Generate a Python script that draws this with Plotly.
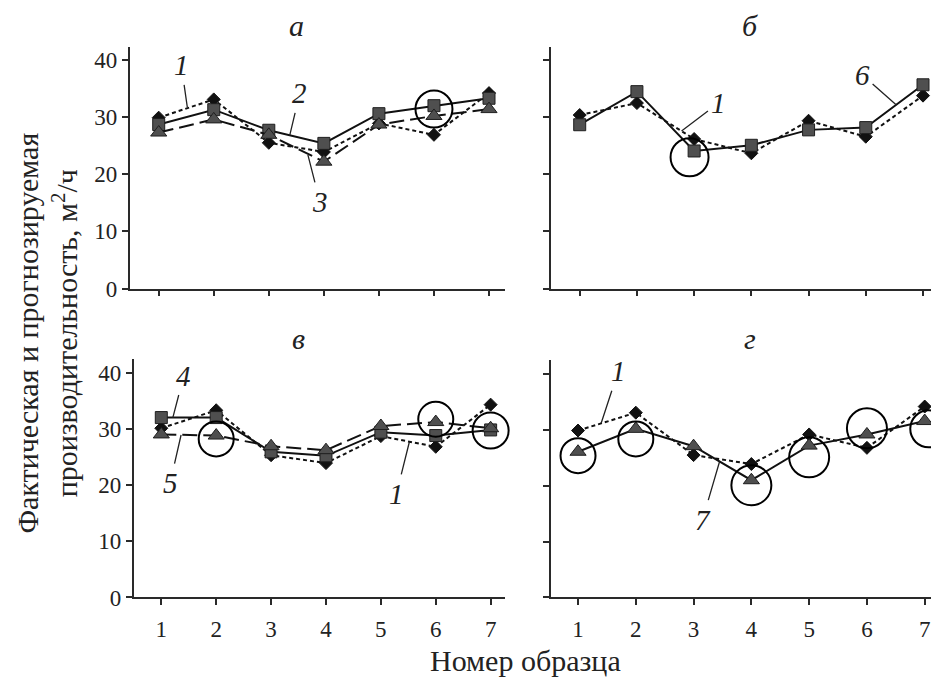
import plotly.graph_objects as go

W, H = 939, 677
samples = [1, 2, 3, 4, 5, 6, 7]

# Panel а
a_s1 = [29.9, 33.1, 25.5, 23.9, 28.9, 26.9, 34.2]
a_s2 = [28.7, 31.3, 27.7, 25.4, 30.6, 32.0, 33.3]
a_s3 = [27.3, 29.6, 26.9, 22.2, 28.7, 30.2, 31.4]
a_circ_x = [6]
a_circ_y = [31.4]
a_circ_d = [37]

# Panel б
b_s1 = [30.4, 32.5, 26.2, 23.7, 29.4, 26.6, 33.8]
b_s6 = [28.7, 34.5, 24.1, 25.1, 27.8, 28.2, 35.7]
b_circ_x = [2.92]
b_circ_y = [23.0]
b_circ_d = [38]

# Panel в
c_s1 = [30.1, 33.3, 25.3, 23.9, 28.7, 26.8, 34.3]
c_s4 = [32.0, 32.0, 25.9, 25.2, 29.4, 28.8, 29.8]
c_s5 = [29.0, 28.8, 26.9, 26.2, 30.5, 31.2, 30.1]
c_circ_x = [2, 6, 7]
c_circ_y = [28.2, 31.7, 29.7]
c_circ_d = [35, 35, 36]

# Panel г
d_s1 = [29.9, 33.1, 25.5, 23.9, 29.2, 26.8, 34.2]
d_s7 = [26.1, 30.2, 27.1, 21.0, 27.2, 29.2, 31.6]
d_circ_x = [1, 2, 4, 5, 6, 7.07]
d_circ_y = [25.4, 28.4, 20.1, 25.1, 30.3, 30.2]
d_circ_d = [35, 35, 40, 40, 40, 37]

yticks = [0, 10, 20, 30, 40]

FONT = "Liberation Serif, Times New Roman, serif"
FILL = "#4f4f4f"
EDGE = "#1e1e1e"

fig = go.Figure()


def add_series(y, kind, xa, ya):
    if kind == "diamond":
        fig.add_trace(go.Scatter(
            x=samples, y=y, mode="lines+markers", xaxis=xa, yaxis=ya,
            line=dict(color="#111", width=2, dash="4px,3px"),
            marker=dict(symbol="diamond", size=10, color="#111",
                        line=dict(color="#111", width=1)),
            showlegend=False, cliponaxis=False))
    elif kind == "square":
        fig.add_trace(go.Scatter(
            x=samples, y=y, mode="lines+markers", xaxis=xa, yaxis=ya,
            line=dict(color="#111", width=2),
            marker=dict(symbol="square", size=12, color=FILL,
                        line=dict(color=EDGE, width=1)),
            showlegend=False, cliponaxis=False))
    elif kind == "tri_dash":
        fig.add_trace(go.Scatter(
            x=samples, y=y, mode="lines+markers", xaxis=xa, yaxis=ya,
            line=dict(color="#111", width=2, dash="15px,6px"),
            marker=dict(symbol="triangle-up", size=14, color=FILL,
                        line=dict(color=EDGE, width=1)),
            showlegend=False, cliponaxis=False))
    elif kind == "tri_solid":
        fig.add_trace(go.Scatter(
            x=samples, y=y, mode="lines+markers", xaxis=xa, yaxis=ya,
            line=dict(color="#111", width=2),
            marker=dict(symbol="triangle-up", size=14, color=FILL,
                        line=dict(color=EDGE, width=1)),
            showlegend=False, cliponaxis=False))


def add_circles(cx, cy, cd, xa, ya):
    fig.add_trace(go.Scatter(
        x=cx, y=cy, mode="markers", xaxis=xa, yaxis=ya,
        marker=dict(symbol="circle-open", size=cd, color="black", opacity=1,
                    line=dict(color="black", width=2)),
        showlegend=False, cliponaxis=False))


add_series(a_s1, "diamond", "x", "y")
add_series(a_s2, "square", "x", "y")
add_series(a_s3, "tri_dash", "x", "y")
add_circles(a_circ_x, a_circ_y, a_circ_d, "x", "y")

add_series(b_s1, "diamond", "x2", "y2")
add_series(b_s6, "square", "x2", "y2")
add_circles(b_circ_x, b_circ_y, b_circ_d, "x2", "y2")

add_series(c_s1, "diamond", "x3", "y3")
add_series(c_s4, "square", "x3", "y3")
add_series(c_s5, "tri_dash", "x3", "y3")
add_circles(c_circ_x, c_circ_y, c_circ_d, "x3", "y3")

add_series(d_s1, "diamond", "x4", "y4")
add_series(d_s7, "tri_solid", "x4", "y4")
add_circles(d_circ_x, d_circ_y, d_circ_d, "x4", "y4")


def px_x(p):
    return p / W


def px_y(p):
    return 1 - p / H


axis_common = dict(showline=True, linecolor="#2a2a2a", linewidth=1.5,
                   ticks="outside", ticklen=6, tickwidth=1.5, tickcolor="#2a2a2a",
                   showgrid=False, zeroline=False,
                   tickfont=dict(family=FONT, size=23, color="#222"))

xdefs = {
    "xaxis": ([px_x(121.7), px_x(497.3)], [0.473, 7.296], "y", False),
    "xaxis2": ([px_x(542.7), px_x(929.3)], [0.493, 7.25], "y2", False),
    "xaxis3": ([px_x(125.7), px_x(497.3)], [0.497, 7.267], "y3", True),
    "xaxis4": ([px_x(542.7), px_x(930.0)], [0.527, 7.23], "y4", True),
}
ydefs = {
    "yaxis": ([px_y(286), px_y(39.3)], [0, 42.35], "x", True),
    "yaxis2": ([px_y(286), px_y(39.9)], [0, 42.3], "x2", False),
    "yaxis3": ([px_y(601), px_y(357.4)], [0, 42.5], "x3", True),
    "yaxis4": ([px_y(601), px_y(359.1)], [0, 42.5], "x4", False),
}

lay = {}
for k, (dom, rng, anc, lbl) in xdefs.items():
    lay[k] = dict(axis_common, domain=dom, range=rng, anchor=anc,
                  tickvals=samples, showticklabels=lbl, ticklabelstandoff=4)
for k, (dom, rng, anc, lbl) in ydefs.items():
    lay[k] = dict(axis_common, domain=dom, range=rng, anchor=anc,
                  tickvals=yticks, showticklabels=lbl)

annotations = []

# panel letters
for txt, x, y in [("а", 288, 18), ("б", 742, 18), ("в", 290, 337), ("г", 742, 337)]:
    annotations.append(dict(text=f"<i>{txt}</i>", x=px_x(x), y=px_y(y),
                            xref="paper", yref="paper", showarrow=False,
                            xanchor="center", yanchor="middle",
                            font=dict(family=FONT, size=30, color="#222")))

# axis titles
annotations.append(dict(text="Номер образца", x=px_x(517), y=px_y(665),
                        xref="paper", yref="paper", showarrow=False,
                        xanchor="center", yanchor="middle",
                        font=dict(family=FONT, size=30, color="#222")))
annotations.append(dict(text="Фактическая и прогнозируемая<br>производительность, м<sup>2</sup>/ч",
                        x=px_x(39), y=px_y(332), xref="paper", yref="paper",
                        showarrow=False, textangle=-90,
                        xanchor="center", yanchor="middle",
                        font=dict(family=FONT, size=30, color="#222")))

# curve labels with leader lines: (label, x, y, ax, ay, xref, yref)
labels = [
    ("1", 1.52, 31.7, -6, -42, "x", "y"),
    ("2", 3.38, 26.8, 10, -42, "x", "y"),
    ("3", 3.71, 23.4, 12, 47, "x", "y"),
    ("1", 2.78, 27.6, 37, -28, "x2", "y2"),
    ("6", 6.53, 32.2, -34, -30, "x2", "y2"),
    ("4", 1.21, 32.0, 11, -42, "x3", "y3"),
    ("5", 1.36, 28.9, -11, 48, "x3", "y3"),
    ("1", 5.52, 27.7, -13, 52, "x3", "y3"),
    ("1", 1.40, 31.2, 17, -52, "x4", "y4"),
    ("7", 3.45, 24.35, -17, 58, "x4", "y4"),
]
for t, x, y, ax, ay, xr, yr in labels:
    annotations.append(dict(text=f"<i>{t}</i>", x=x, y=y, xref=xr, yref=yr,
                            ax=ax, ay=ay, showarrow=True, arrowhead=0,
                            arrowwidth=1.3, arrowcolor="#222", startstandoff=2,
                            font=dict(family=FONT, size=29, color="#222")))

fig.update_layout(
    width=W, height=H,
    margin=dict(l=0, r=0, t=0, b=0),
    paper_bgcolor="white", plot_bgcolor="white",
    showlegend=False,
    annotations=annotations,
    **lay,
)

fig.write_html("out.html")
